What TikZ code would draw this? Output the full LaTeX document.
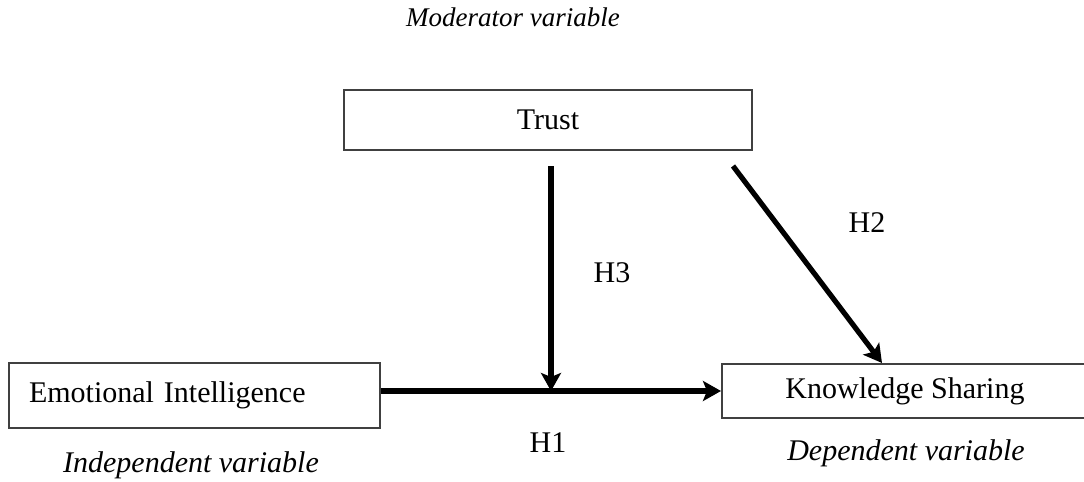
\documentclass[tikz,border=0pt]{standalone}
\usepackage{fontspec}
\setmainfont{Liberation Serif}
\usetikzlibrary{arrows.meta,calc}

\begin{document}
\begin{tikzpicture}[x=0.5pt,y=-0.5pt,
  every node/.style={font=\fontsize{15}{18}\selectfont},
  box/.style={draw=black!75,line width=1pt,inner sep=0pt},
  path/.style={line width=2.6pt,-{Stealth[length=9pt,width=10pt,inset=2pt]}}]
\useasboundingbox (0,0) rectangle (1084,482);
\node[box,minimum width=204pt,minimum height=30pt] (T) at (548,120) {Trust};
\node[box,minimum height=32.5pt,text width=165.5pt,inner xsep=10pt,align=left] (E) at (194.5,395.5) {Emotional Intelligence};
\node[box,minimum width=183pt,minimum height=27pt] (K) at (905,391) {Knowledge Sharing};
\node[font=\fontsize{13.5}{16}\itshape] (MV) at (513,17) {Moderator variable};
\node[font=\fontsize{15}{18}\itshape] (IV) at (191,465) {Independent variable};
\node[font=\fontsize{15}{18}\itshape] (DV) at (906,453) {Dependent variable};
\coordinate (M) at ($(E.east |- K.west)!0.5!(K.west)$);
\draw[path] (E.east |- K.west) -- (K.west);
\draw[path] ([yshift=-7.5pt]T.south -| M) -- (M);
\draw[path] ([xshift=-10pt,yshift=-7.5pt]T.south east) -- ([xshift=80.5pt]K.north west);
\node (H1) at (548,443) {H1};
\node (H2) at (867,223) {H2};
\node (H3) at (612,273) {H3};
\end{tikzpicture}
\end{document}
